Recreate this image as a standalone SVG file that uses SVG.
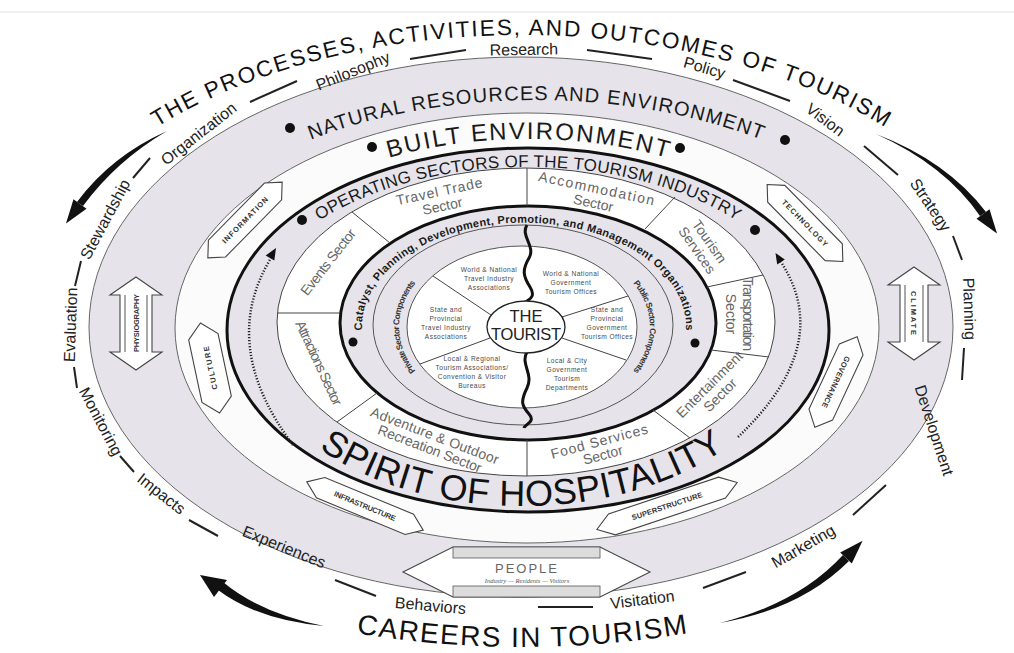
<svg xmlns="http://www.w3.org/2000/svg" width="1014" height="653" viewBox="0 0 1014 653">
<style>
text{font-family:"Liberation Sans",Arial,Helvetica,sans-serif}
.g{fill:#e6e4ea}
.word{font-size:16px;fill:#222;text-anchor:middle}
.dash{stroke:#222;stroke-width:2;fill:none}
.big{fill:#111}
.sec{font-size:14px;fill:#666;text-anchor:middle}
.wdg{font-size:6.6px;fill:#4a4a4a;text-anchor:middle;letter-spacing:0.45px}
.box{fill:#fff;stroke:#444;stroke-width:1.1}
.lbl{font-size:7.5px;font-weight:bold;fill:#333;text-anchor:middle}
.thin{fill:none;stroke:#555;stroke-width:1}
.div{stroke:#444;stroke-width:1}
.dot{fill:#111}
.blk{fill:#111}
</style>
<defs>
<path id="p-title" d="M 21 328 A 500 293 0 0 1 1021 328"/>
<path id="p-natural" d="M 136 328 A 400 228 0 0 1 936 328"/>
<path id="p-built" d="M 206 330 A 322 191 0 0 1 850 330"/>
<path id="p-oper" d="M 248 328 A 280 161 0 0 1 808 328"/>
<path id="p-spirit" d="M 246 328 A 276 178 0 0 0 798 328"/>
<path id="p-cat" d="M 364 343 A 162 104 0 1 1 684 343"/>
<path id="p-priv" d="M 522 415 A 123 88 0 0 1 522 239"/>
<path id="p-pub" d="M 524 239 A 126 88 0 0 1 524 415"/>
<path id="p-careers" d="M 338 630 Q 522 664 706 630"/>
</defs>
<rect width="1014" height="653" fill="#fff"/>
<line x1="0" y1="12" x2="1014" y2="12" stroke="#e2e2e2" stroke-width="1"/>

<g id="rings">
<ellipse cx="521" cy="327" rx="432" ry="270" class="g" stroke="#666" stroke-width="1"/>
<ellipse cx="527" cy="328" rx="352" ry="215" fill="#fbfbfb" stroke="#666" stroke-width="1"/>
<ellipse cx="528" cy="330" rx="301" ry="182" class="g" stroke="#111" stroke-width="3"/>
<ellipse cx="526" cy="322" rx="249" ry="154" fill="#fff" stroke="#444" stroke-width="1"/>
<ellipse cx="528" cy="323" rx="188" ry="117" class="g" stroke="#111" stroke-width="3"/>
<ellipse cx="523" cy="325" rx="150" ry="100" class="thin"/>
<ellipse cx="522" cy="327" rx="115" ry="81" fill="#fff" stroke="#555" stroke-width="1"/>
</g>

<g id="title">
<text class="big" font-size="22.5"><textPath href="#p-title" startOffset="50%" text-anchor="middle" textLength="760">THE PROCESSES, ACTIVITIES, AND OUTCOMES OF TOURISM</textPath></text>
<text class="big" font-size="28"><textPath href="#p-careers" startOffset="50%" text-anchor="middle" textLength="333">CAREERS IN TOURISM</textPath></text>
</g>

<g id="outer-words">
<text class="word" transform="translate(110,222) rotate(-62)">Stewardship</text>
<text class="word" transform="translate(202,138) rotate(-38)">Organization</text>
<text class="word" transform="translate(355,76) rotate(-22)">Philosophy</text>
<text class="word" transform="translate(524,55) rotate(-1)">Research</text>
<text class="word" transform="translate(703,73) rotate(16)">Policy</text>
<text class="word" transform="translate(822,124) rotate(37)">Vision</text>
<text class="word" transform="translate(926,208) rotate(56)">Strategy</text>
<text class="word" transform="translate(964,309) rotate(88)">Planning</text>
<text class="word" transform="translate(929,432) rotate(72)">Development</text>
<text class="word" transform="translate(806,551) rotate(-30)">Marketing</text>
<text class="word" transform="translate(643,605) rotate(-7)">Visitation</text>
<text class="word" transform="translate(430,611) rotate(5)">Behaviors</text>
<text class="word" transform="translate(282,552) rotate(22)">Experiences</text>
<text class="word" transform="translate(158,498) rotate(38)">Impacts</text>
<text class="word" transform="translate(96,424) rotate(62)">Monitoring</text>
<text class="word" transform="translate(76,325) rotate(-88)">Evaluation</text>
<path class="dash" d="M81 261 L75 286 M74 367 L77 388 M120 456 L134 472 M189 520 L218 536 M335 580 L376 596 M538 607 L593 607 M703 588 L746 572 M853 515 L886 485 M964 348 L962 380 M953 236 L962 260 M864 146 L898 175 M733 80 L790 101 M587 50 L652 59 M410 59 L466 50 M250 102 L297 81 M133 178 L150 158"/>
</g>

<g id="natural-resources">
<text font-size="20" fill="#1a1a1a"><textPath href="#p-natural" startOffset="50%" text-anchor="middle" textLength="460">NATURAL RESOURCES AND ENVIRONMENT</textPath></text>
<circle class="dot" cx="290" cy="128" r="5"/>
<circle class="dot" cx="785" cy="140" r="5"/>
</g>

<g id="physiography">
<path class="box" d="M136 277 L162 295 L152 295 L152 352 L162 352 L136 370 L110 352 L120 352 L120 295 L110 295 Z"/>
<path class="thin" d="M125 295 L125 352 M147 295 L147 352"/>
<text class="lbl" font-size="8.5" transform="translate(139,323) rotate(-90)" textLength="58">PHYSIOGRAPHY</text>
</g>
<g id="climate">
<path class="box" d="M914 267 L940 285 L928 285 L928 342 L940 342 L914 360 L888 342 L900 342 L900 285 L888 285 Z"/>
<path class="thin" d="M905 285 L905 342 M923 285 L923 342"/>
<text class="lbl" font-size="8.5" transform="translate(911,313) rotate(90)" textLength="44">CLIMATE</text>
</g>
<g id="people">
<path class="box" d="M403 572 L453 547 L600 547 L650 572 L600 597 L453 597 Z"/>
<rect x="453" y="547" width="147" height="11" fill="#dcdcdc" stroke="#555" stroke-width="0.8"/>
<rect x="453" y="586" width="147" height="11" fill="#dcdcdc" stroke="#555" stroke-width="0.8"/>
<text x="527" y="573" text-anchor="middle" font-size="13" fill="#666" letter-spacing="2">PEOPLE</text>
<text x="527" y="583" text-anchor="middle" font-size="6.5" fill="#555" font-style="italic" style="font-family:'Liberation Serif',serif">Industry — Residents — Visitors</text>
</g>

<g id="built-environment">
<text font-size="24" fill="#1a1a1a"><textPath href="#p-built" startOffset="50%" text-anchor="middle" textLength="282">BUILT ENVIRONMENT</textPath></text>
<circle class="dot" cx="372" cy="147" r="5"/>
<circle class="dot" cx="680" cy="148" r="5"/>
</g>

<g id="information" transform="translate(245,220) rotate(-45.5)">
<path class="box" d="M-53 0 L-40 -12 L40 -12 L53 0 L40 12 L-40 12 Z"/>
<text class="lbl" y="2.7" textLength="62">INFORMATION</text>
</g>
<g id="culture" transform="translate(210,368) rotate(-102)">
<path class="box" d="M-46 0 L-32 -15 L32 -15 L46 0 L32 15 L-32 15 Z"/>
<text class="lbl" font-size="9" y="3" textLength="44">CULTURE</text>
</g>
<g id="technology" transform="translate(805,223) rotate(45.5)">
<path class="box" d="M-54 0 L-41 -12 L41 -12 L54 0 L41 12 L-41 12 Z"/>
<text class="lbl" y="2.7" textLength="62">TECHNOLOGY</text>
</g>
<g id="governance" transform="translate(836,382) rotate(115)">
<path class="box" d="M-50 0 L-36 -13 L36 -13 L50 0 L36 13 L-36 13 Z"/>
<text class="lbl" y="2.7" textLength="56">GOVERNANCE</text>
</g>
<g id="infrastructure" transform="translate(365,506) rotate(22.5)">
<path class="box" d="M-63 0 L-48 -11 L48 -11 L63 0 L48 11 L-48 11 Z"/>
<text class="lbl" y="2.7" textLength="66">INFRASTRUCTURE</text>
</g>
<g id="superstructure" transform="translate(667,506) rotate(-18.5)">
<path class="box" d="M-74 0 L-58 -11 L58 -11 L74 0 L58 11 L-58 11 Z"/>
<text class="lbl" y="2.7" textLength="74">SUPERSTRUCTURE</text>
</g>

<g id="operating-sectors">
<text font-size="17" fill="#1a1a1a"><textPath href="#p-oper" startOffset="50%" text-anchor="middle" textLength="436">OPERATING SECTORS OF THE TOURISM INDUSTRY</textPath></text>
<circle class="dot" cx="302" cy="220" r="5"/>
<circle class="dot" cx="755" cy="230" r="5"/>
<text font-size="36" fill="#111"><textPath href="#p-spirit" startOffset="50%" text-anchor="middle" textLength="428">SPIRIT OF HOSPITALITY</textPath></text>
</g>

<g id="sectors">
<path class="div" d="M527 168 L527 206 M675 197 L645 229 M707 287 L763 275 M711 350 L769 357 M653 410 L690 438 M527 440 L527 476 M377 393 L337 422 M277 313 L340 313 M352 212 L390 243"/>
<g id="travel-trade" transform="translate(441,200) rotate(-12)"><text class="sec" y="-4"><tspan x="0" textLength="88">Travel Trade</tspan><tspan x="0" dy="15">Sector</tspan></text></g>
<g id="accommodation" transform="translate(595,195) rotate(12)"><text class="sec" y="-2"><tspan x="0" textLength="118">Accommodation</tspan><tspan x="0" dy="15">Sector</tspan></text></g>
<g id="tourism-services" transform="translate(703,246) rotate(55)"><text class="sec" y="-3"><tspan x="0">Tourism</tspan><tspan x="0" dy="15">Services</tspan></text></g>
<g id="transportation" transform="translate(739,314) rotate(90)"><text class="sec" y="-4"><tspan x="0" textLength="74">Transportation</tspan><tspan x="0" dy="17">Sector</tspan></text></g>
<g id="entertainment" transform="translate(715,390) rotate(-45)"><text class="sec" y="-3"><tspan x="0">Entertainment</tspan><tspan x="0" dy="15">Sector</tspan></text></g>
<g id="food-services" transform="translate(601,448) rotate(-15)"><text class="sec" y="-2"><tspan x="0" textLength="100">Food Services</tspan><tspan x="0" dy="14">Sector</tspan></text></g>
<g id="adventure" transform="translate(432,443) rotate(21)"><text class="sec" y="-3"><tspan x="0" textLength="136">Adventure &amp; Outdoor</tspan><tspan x="0" dy="14" textLength="110">Recreation Sector</tspan></text></g>
<g id="attractions" transform="translate(319,363) rotate(65)"><text class="sec" y="5" textLength="92">Attractions Sector</text></g>
<g id="events" transform="translate(328,262) rotate(-52)"><text class="sec" y="5" textLength="80">Events Sector</text></g>
</g>

<g id="catalyst-ring">
<text font-size="11" font-weight="bold" fill="#1a1a1a"><textPath href="#p-cat" startOffset="50%" text-anchor="middle" textLength="430">Catalyst, Planning, Development, Promotion, and Management Organizations</textPath></text>
<circle class="dot" cx="353" cy="342" r="4.5"/>
<circle class="dot" cx="695" cy="343" r="4.5"/>
<text font-size="8.5" font-weight="bold" fill="#333"><textPath href="#p-priv" startOffset="50%" text-anchor="middle" textLength="96">Private Sector Components</textPath></text>
<text font-size="8.5" font-weight="bold" fill="#333"><textPath href="#p-pub" startOffset="50%" text-anchor="middle" textLength="96">Public Sector Components</textPath></text>
</g>

<g id="core">
<path class="div" d="M491 315 L433 276 M490 338 L420 364 M562 317 L628 296 M562 338 L626 360"/>
<path d="M527 225 C520 236 536 246 529 258 S523 276 530 287 S527 300 526 302 M527 352 C520 364 534 374 527 388 S522 406 529 414 S525 424 524 428" fill="none" stroke="#111" stroke-width="3"/>
<text class="wdg" y="272"><tspan x="489">World &amp; National</tspan><tspan x="489" dy="9">Travel Industry</tspan><tspan x="489" dy="9">Associations</tspan></text>
<text class="wdg" y="276"><tspan x="571">World &amp; National</tspan><tspan x="571" dy="9">Government</tspan><tspan x="571" dy="9">Tourism Offices</tspan></text>
<text class="wdg" y="312"><tspan x="446">State and</tspan><tspan x="446" dy="9">Provincial</tspan><tspan x="446" dy="9">Travel Industry</tspan><tspan x="446" dy="9">Associations</tspan></text>
<text class="wdg" y="312"><tspan x="607">State and</tspan><tspan x="607" dy="9">Provincial</tspan><tspan x="607" dy="9">Government</tspan><tspan x="607" dy="9">Tourism Offices</tspan></text>
<text class="wdg" y="361"><tspan x="472">Local &amp; Regional</tspan><tspan x="472" dy="9">Tourism Associations/</tspan><tspan x="472" dy="9">Convention &amp; Visitor</tspan><tspan x="472" dy="9">Bureaus</tspan></text>
<text class="wdg" y="363"><tspan x="567">Local &amp; City</tspan><tspan x="567" dy="9">Government</tspan><tspan x="567" dy="9">Tourism</tspan><tspan x="567" dy="9">Departments</tspan></text>
</g>

<g id="the-tourist">
<ellipse cx="526" cy="327" rx="39" ry="26" fill="#fff" stroke="#222" stroke-width="1.3"/>
<text text-anchor="middle" font-size="16.5" fill="#222" y="322"><tspan x="526">THE</tspan><tspan x="526" dy="18" textLength="70">TOURIST</tspan></text>
</g>

<g id="connectors">
<path d="M293 445 Q218 345 271 258" fill="none" stroke="#222" stroke-width="2.5" stroke-dasharray="1.2 1.8"/>
<path class="blk" d="M276 248 L274.3 260.6 L265.7 255.4 Z"/>
<path d="M738 437 Q835 345 781 262" fill="none" stroke="#222" stroke-width="2.5" stroke-dasharray="1.2 1.8"/>
<path class="blk" d="M775.5 253 L784.8 259.5 L777.2 264.5 Z"/>
<path class="blk" d="M167 131 Q111 156 77 202 L83 206 Q116 161 167 131 Z"/>
<path class="blk" d="M86.5 208.7 L66 223.5 L73.5 199.3 Z"/>
<path class="blk" d="M876 134 Q947 161 986 212 L980 216 Q945 165 876 134 Z"/>
<path class="blk" d="M989.5 209.3 L997 233.4 L976.5 218.7 Z"/>
<path class="blk" d="M720 623 Q801 609 849 561 L843 555 Q799 603 720 623 Z"/>
<path class="blk" d="M851.8 563.5 L862.6 540.7 L840.2 552.5 Z"/>
<path class="blk" d="M324 626 Q258 620 218 590 L223 582 Q260 613 324 626 Z"/>
<path class="blk" d="M227 580 L200 575 L214 597 Z"/>
</g>
</svg>
